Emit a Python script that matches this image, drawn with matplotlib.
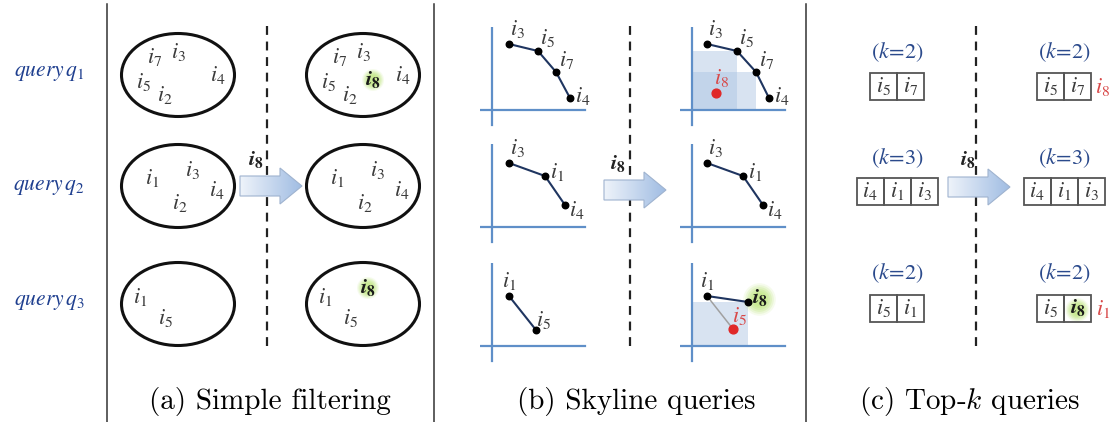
import numpy as np
import matplotlib
matplotlib.use("Agg")
import matplotlib.pyplot as plt
from matplotlib.patches import Ellipse, Rectangle, FancyArrow

W, H = 1119, 422

# ---- content ---------------------------------------------------------------
queries = ["1", "2", "3"]
query_y = [73, 187, 302]

# (a) simple filtering: items inside each query's result set (label, x, y)
filt_before = [
    [("7", 155, 57), ("3", 178, 52), ("5", 143, 82), ("2", 165, 95), ("4", 218, 75)],
    [("1", 152, 178), ("3", 192, 170), ("2", 180, 203), ("4", 217, 190)],
    [("1", 140, 297), ("5", 165, 318)],
]
filt_new = [(373, 80), None, (368, 288)]  # where i8 lands (None = filtered out)

# (b) skyline: points in mini-plot data units
sky_before = [
    [("3", 1.7, 6.6), ("5", 4.6, 5.9), ("7", 6.4, 3.8), ("4", 7.8, 1.2)],
    [("3", 1.7, 6.4), ("1", 5.3, 5.1), ("4", 7.3, 2.2)],
    [("1", 1.7, 5.0), ("5", 4.4, 1.6)],
]
sky_after = [
    [("3", 1.5, 6.6), ("5", 4.5, 5.9), ("7", 6.4, 3.8), ("4", 7.7, 1.2)],
    [("3", 1.5, 6.4), ("1", 5.1, 5.1), ("4", 7.1, 2.2)],
    [("1", 1.5, 5.0), ("8", 5.6, 4.4)],
]
sky_new = [(2.4, 1.7), None, None]
sky_dominated = [None, None, ("5", 4.1, 1.7)]
# label offsets in screen pixels (right, down)
sky_label_off = {"3": (8, -15), "5": (9, -13), "7": (11, -12), "4": (13, -2),
                 "1": (12, -4), "8": (12, -4)}
sky_label_off_rows = [{}, {"4": (12, 5)}, {"1": (0, -15), "5": (7, -10)}]

# (c) top-k lists
topk_k = [2, 3, 2]
topk_before = [["5", "7"], ["4", "1", "3"], ["5", "1"]]
topk_after = [["5", "7"], ["4", "1", "3"], ["5", "8"]]
topk_out = ["8", None, "1"]  # item falling outside the list

captions = ["(a) Simple filtering", "(b) Skyline queries", "(c) Top-$k$ queries"]
caption_x = [270, 636, 970]

# ---- styles ----------------------------------------------------------------
TXT = "#3a3a3a"
NAVY = "#1f3f8f"
RED = "#d84848"
AXBLUE = "#5f8fc8"
GLOW = "#c6e98c"
FS = 16

fig = plt.figure(figsize=(W / 100, H / 100), dpi=100)
ax = fig.add_axes([0, 0, 1, 1])
ax.set_xlim(0, W)
ax.set_ylim(H, 0)
ax.axis("off")


def item(a, name, x, y, color=TXT, bold=False, size=FS, **kw):
    s = r"$\mathbfit{i}_\mathbf{%s}$" % name if bold else r"$i_{%s}$" % name
    return a.text(x, y, s, color=color, fontsize=size, ha="center", va="center",
                  math_fontfamily="stix", **kw)


def glow(a, x, y, r=11):
    for k, al in zip(np.linspace(1.0, 0.45, 6), np.linspace(0.15, 0.55, 6)):
        a.add_patch(Ellipse((x, y), 2 * r * k, 2 * r * k, color=GLOW, alpha=al,
                            lw=0, zorder=1))


def arrow(x, y, label_x):
    arr = FancyArrow(x, y, 40, 0, width=20, head_width=36, head_length=22,
                     length_includes_head=False, facecolor="none",
                     edgecolor="#9fb3cf", lw=0.8, zorder=4)
    ax.add_patch(arr)
    grad = np.linspace(0, 1, 64)[None, :]
    im = ax.imshow(grad, cmap=matplotlib.colors.LinearSegmentedColormap.from_list(
        "g", ["#eef3fa", "#9ebbe2"]), extent=(x, x + 64, y + 20, y - 20),
        aspect="auto", zorder=3)
    im.set_clip_path(arr)
    item(ax, "8", label_x, y - 27, color="#222222", bold=True, zorder=5)


def lab(m, s, xy, off, color=TXT, **kw):
    m.annotate(s, xy, xytext=(off[0], -off[1]), textcoords="offset pixels",
               ha="center", va="center", fontsize=FS, color=color,
               math_fontfamily="stix", **kw)


# separators
for xs in [107, 434, 806]:
    ax.plot([xs, xs], [4, H], color="#333333", lw=1.1)
for xd in [267, 630, 976]:
    ax.plot([xd, xd], [26, 346], color="#222222", lw=1.6, dashes=(4, 3))

# row labels
for q, y in zip(queries, query_y):
    ax.text(49, y, r"$query\,q_{%s}$" % q, color=NAVY, fontsize=15.5, ha="center",
            va="center", math_fontfamily="stix")

# captions
for c, x in zip(captions, caption_x):
    ax.text(x, 401, c, fontsize=21, ha="center", va="center", family="cmr10",
            math_fontfamily="cm")

# ---- (a) ---------------------------------------------------------------
ell_y = [75, 186, 304]
for r in range(3):
    for shift in (0, 185):
        ax.add_patch(Ellipse((178 + shift, ell_y[r]), 113, 83, fill=False,
                             lw=2.2, color="#111111", zorder=2))
        for n, x, y in filt_before[r]:
            item(ax, n, x + shift, y)
    if filt_new[r] is not None:
        gx, gy = filt_new[r]
        glow(ax, gx, gy)
        item(ax, "8", gx, gy, color="#1a1a1a", bold=True, zorder=3)
arrow(240, 186, 256)

# ---- (b) ---------------------------------------------------------------
origins = [110, 227, 346]


def mini(ox, oy):
    left, right, top, bot = ox - 12, ox + 98, oy - 83, oy + 17
    m = fig.add_axes([left / W, 1 - bot / H, (right - left) / W, (bot - top) / H])
    m.set_xlim(-1.2, 9.8)
    m.set_ylim(-1.7, 8.3)
    m.axis("off")
    m.plot([-1.2, 9.3], [0, 0], color=AXBLUE, lw=1.6)
    m.plot([0, 0], [-1.5, 8.3], color=AXBLUE, lw=1.6)
    return m


def sky(m, pts, row):
    xs = [p[1] for p in pts]
    ys = [p[2] for p in pts]
    m.plot(xs, ys, color="#1f3560", lw=1.5, zorder=3)
    m.scatter(xs, ys, s=22, color="black", zorder=4)
    for n, x, y in pts:
        lab(m, r"$i_{%s}$" % n, (x, y), sky_label_off_rows[row].get(n, sky_label_off[n]))


for r in range(3):
    mb = mini(492, origins[r])
    sky(mb, sky_before[r], r)
    ma = mini(692, origins[r])
    pts = sky_after[r]
    if r == 0:
        for n in ("5", "7"):
            p = [q for q in pts if q[0] == n][0]
            ma.add_patch(Rectangle((0, 0), p[1], p[2], color="#a9c3e2", alpha=0.45,
                                   lw=0, zorder=1))
    if r == 2:
        p8 = pts[1]
        ma.add_patch(Rectangle((0, 0), p8[1], p8[2], color="#a9c3e2", alpha=0.45,
                               lw=0, zorder=1))
        d = sky_dominated[r]
        ma.plot([pts[0][1], d[1]], [pts[0][2], d[2]], color="#a0a0a0", lw=1.1, zorder=2)
        ma.scatter([d[1]], [d[2]], s=40, color="#e02828", zorder=4)
        lab(ma, r"$i_{%s}$" % d[0], (d[1], d[2]), (6, -13), color=RED)
        xs = [q[1] for q in pts]
        ys = [q[2] for q in pts]
        ma.plot(xs, ys, color="#1f3560", lw=1.5, zorder=3)
        ma.scatter(xs, ys, s=22, color="black", zorder=4)
        lab(ma, r"$i_{1}$", (xs[0], ys[0]), (0, -15))
        for k, al in zip(np.linspace(1.0, 0.4, 6), np.linspace(0.15, 0.55, 6)):
            ma.scatter([xs[1] + 1.1], [ys[1] + 0.3], s=550 * k ** 2, color=GLOW,
                       alpha=al, lw=0, zorder=2)
        lab(ma, r"$\mathbfit{i}_\mathbf{8}$", (xs[1], ys[1]), (12, -4),
            color="#1a1a1a", zorder=5)
    else:
        sky(ma, pts, r)
    if sky_new[r] is not None:
        nx, ny = sky_new[r]
        ma.scatter([nx], [ny], s=40, color="#e02828", zorder=4)
        lab(ma, r"$i_{8}$", (nx, ny), (6, -15), color=RED)
arrow(604, 190, 618)

# ---- (c) ---------------------------------------------------------------
k_y = [52, 158, 273]
box_y = [86, 191, 308]
CELL = 27


def box(cx, cy, items, hl=None):
    x0 = cx - CELL * len(items) / 2
    for j, n in enumerate(items):
        ax.add_patch(Rectangle((x0 + j * CELL, cy - 13.5), CELL, 27, fill=False,
                               ec="#555555", lw=1.3, zorder=3))
        if n == hl:
            glow(ax, x0 + j * CELL + CELL / 2, cy + 2, r=12)
            item(ax, n, x0 + j * CELL + CELL / 2, cy, color="#1a1a1a", bold=True, zorder=4)
        else:
            item(ax, n, x0 + j * CELL + CELL / 2, cy, zorder=4)
    return x0 + CELL * len(items)


for r in range(3):
    for cx, items, hl in [(897, topk_before[r], None), (1064, topk_after[r], "8")]:
        ax.text(cx, k_y[r], r"$(k\!=\!%d)$" % topk_k[r], color="#2b4a8c", fontsize=16,
                ha="center", va="center", math_fontfamily="stix")
        right = box(cx, box_y[r], items, hl)
    if topk_out[r] is not None:
        item(ax, topk_out[r], right + 12, box_y[r] + 1, color=RED)
arrow(948, 187, 968)

fig.savefig("out.png", dpi=100)
